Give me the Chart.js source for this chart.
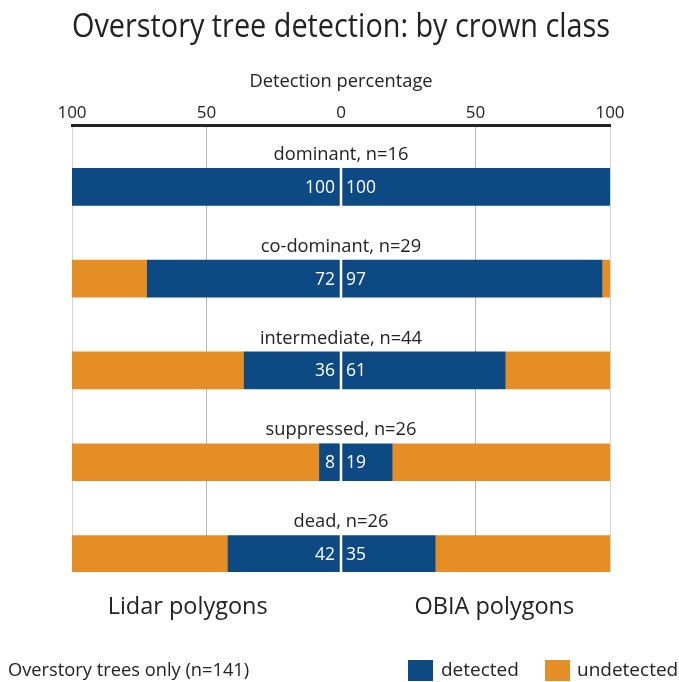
<!DOCTYPE html>
<html>
<head>
<meta charset="utf-8">
<script src="https://cdn.jsdelivr.net/npm/chart.js@4"></script>
<style>
  html, body { margin: 0; padding: 0; background: #fff; }
  #wrap { width: 679px; height: 682px; }
</style>
</head>
<body>
<div id="wrap"><canvas id="chart" width="679" height="682"></canvas></div>
<script>
// ── Data ──
const classes = ['dominant', 'co-dominant', 'intermediate', 'suppressed', 'dead'];
const classCounts = [16, 29, 44, 26, 26];
const lidarDetected = [100, 72, 36, 8, 42];
const obiaDetected = [100, 97, 61, 19, 35];
const tickValues = [-100, -50, 0, 50, 100];

const BLUE = '#0d4a83';
const ORANGE = '#e68e26';
const FONT = "'Open Sans', 'Noto Sans', sans-serif";

// bars sit at index 0..4 on a linear y scale (labels are drawn above each bar)
const pts = vals => vals.map((v, i) => ({ x: v, y: i }));

const datasets = [
  { label: 'lidar detected', data: pts(lidarDetected.map(v => -v)), backgroundColor: BLUE },
  { label: 'lidar undetected', data: pts(lidarDetected.map(v => -(100 - v))), backgroundColor: ORANGE },
  { label: 'obia detected', data: pts(obiaDetected), backgroundColor: BLUE },
  { label: 'obia undetected', data: pts(obiaDetected.map(v => 100 - v)), backgroundColor: ORANGE }
].map(d => Object.assign(d, { barThickness: 37, borderWidth: 0 }));

// ── Extra drawing: class labels, values, center gap, footer, legend ──
const annotations = {
  id: 'annotations',
  afterDatasetsDraw(chart) {
    const { ctx, chartArea, scales: { x, y } } = chart;
    const x0 = x.getPixelForValue(0);

    // white gap in the middle
    ctx.save();
    ctx.strokeStyle = '#fff';
    ctx.lineWidth = 2.5;
    ctx.beginPath();
    ctx.moveTo(x0, chartArea.top + 2);
    ctx.lineTo(x0, chartArea.bottom);
    ctx.stroke();

    ctx.textBaseline = 'middle';
    classes.forEach((c, i) => {
      const yc = y.getPixelForValue(i);
      ctx.font = '18.3px ' + FONT;
      ctx.fillStyle = '#222';
      ctx.textAlign = 'center';
      ctx.fillText(c + ', n=' + classCounts[i], x0, yc - 32);
      ctx.font = '17.5px ' + FONT;
      ctx.fillStyle = '#fff';
      ctx.textAlign = 'right';
      ctx.fillText(String(lidarDetected[i]), x0 - 6, yc + 1);
      ctx.textAlign = 'left';
      ctx.fillText(String(obiaDetected[i]), x0 + 5, yc + 1);
    });

    // polygon labels
    ctx.fillStyle = '#222';
    ctx.font = '23.5px ' + FONT;
    ctx.textAlign = 'center';
    ctx.fillText('Lidar polygons', x.getPixelForValue(-57), 607);
    ctx.fillText('OBIA polygons', x.getPixelForValue(57), 607);

    // footnote
    ctx.font = '18.3px ' + FONT;
    ctx.textAlign = 'left';
    ctx.fillText('Overstory trees only (n=141)', 8, 671);

    // legend
    ctx.fillStyle = BLUE;
    ctx.fillRect(408, 660, 25, 21);
    ctx.fillStyle = ORANGE;
    ctx.fillRect(545, 660, 25, 21);
    ctx.fillStyle = '#222';
    ctx.font = '19px ' + FONT;
    ctx.fillText('detected', 441, 671);
    ctx.fillText('undetected', 577, 671);
    ctx.restore();
  }
};

new Chart(document.getElementById('chart'), {
  type: 'bar',
  data: { datasets },
  options: {
    indexAxis: 'y',
    responsive: false,
    animation: false,
    layout: { padding: { left: 72, right: 69, top: 0, bottom: 110 } },
    plugins: {
      legend: { display: false },
      tooltip: { enabled: false },
      title: {
        display: true,
        text: 'Overstory tree detection: by crown class',
        color: '#222',
        font: { family: FONT, size: 33, weight: 'normal' },
        padding: { top: 8, bottom: 23 }
      }
    },
    scales: {
      x: {
        type: 'linear',
        position: 'top',
        stacked: true,
        min: -100,
        max: 100,
        afterBuildTicks: axis => { axis.ticks = tickValues.map(v => ({ value: v })); },
        ticks: {
          color: '#222',
          font: { family: FONT, size: 17 },
          padding: 3,
          maxRotation: 0,
          callback: v => Math.abs(v)
        },
        grid: {
          drawTicks: false,
          lineWidth: 1,
          color: c => c.tick.value === 0 ? 'rgba(0,0,0,0)' : (Math.abs(c.tick.value) === 100 ? '#d4d4d4' : '#b5b5b5')
        },
        border: { display: true, color: '#222', width: 3 },
        title: {
          display: true,
          text: 'Detection percentage',
          color: '#222',
          font: { family: FONT, size: 18.3 },
          padding: { top: 0, bottom: 7 }
        }
      },
      y: {
        type: 'linear',
        stacked: true,
        reverse: true,
        offset: false,
        min: -0.663,
        max: 4.196,
        display: false
      }
    }
  },
  plugins: [annotations]
});
</script>
</body>
</html>
